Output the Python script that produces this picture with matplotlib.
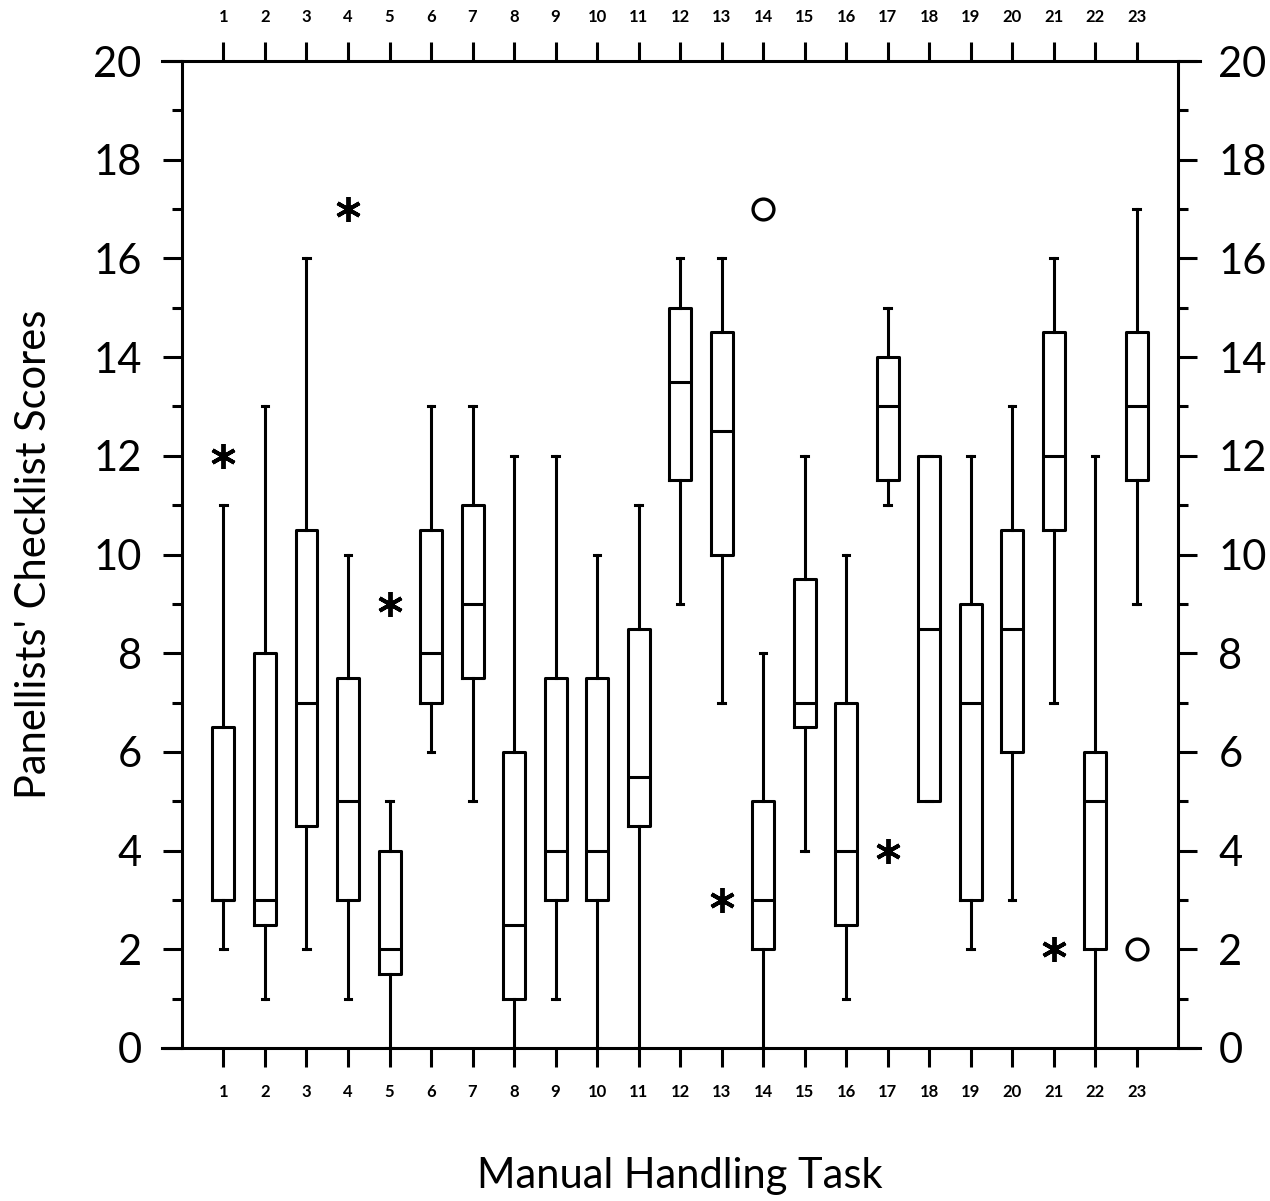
import matplotlib.pyplot as plt
from matplotlib.ticker import MultipleLocator

# data
tasks = list(range(1, 24))
q1 = [3, 2.5, 4.5, 3, 1.5, 7, 7.5, 1, 3, 3, 4.5, 11.5, 10, 2, 6.5, 2.5, 11.5, 5, 3, 6, 10.5, 2, 11.5]
med = [3, 3, 7, 5, 2, 8, 9, 2.5, 4, 4, 5.5, 13.5, 12.5, 3, 7, 4, 13, 8.5, 7, 8.5, 12, 5, 13]
q3 = [6.5, 8, 10.5, 7.5, 4, 10.5, 11, 6, 7.5, 7.5, 8.5, 15, 14.5, 5, 9.5, 7, 14, 12, 9, 10.5, 14.5, 6, 14.5]
wlo = [2, 1, 2, 1, 0, 6, 5, 0, 1, 0, 0, 9, 7, 0, 4, 1, 11, 5, 2, 3, 7, 0, 9]
whi = [11, 13, 16, 10, 5, 13, 13, 12, 12, 10, 11, 16, 16, 8, 12, 10, 15, 12, 12, 13, 16, 12, 17]

# outliers: stars (extreme) and circles
star_task = [1, 4, 5, 13, 17, 21]
star_score = [12, 17, 9, 3, 4, 2]
circle_task = [14, 23]
circle_score = [17, 2]

plt.rcParams['font.family'] = ['Lato', 'DejaVu Sans']

fig = plt.figure(figsize=(12.7, 12.01), dpi=100)
ax = fig.add_axes([0.1433, 0.1274, 0.7843, 0.8218])

stats = []
for i in range(len(tasks)):
    stats.append({'med': med[i], 'q1': q1[i], 'q3': q3[i],
                  'whislo': wlo[i], 'whishi': whi[i], 'fliers': []})

lp = dict(color='black', linewidth=2.2)
ax.bxp(stats, positions=tasks, widths=0.53, capwidths=0.15, showfliers=False,
       boxprops=lp, whiskerprops=lp, capprops=lp, medianprops=lp)

ax.plot(star_task, star_score, linestyle='none', marker=(6, 2, 0),
        markersize=18, markeredgewidth=2.8, color='black')
ax.plot(circle_task, circle_score, linestyle='none', marker='o',
        markersize=15, markerfacecolor='none', markeredgewidth=2.4, color='black')

ax.set_xlim(0, 24)
ax.set_ylim(0, 20)
ax.set_xticks(tasks)
ax.set_xticklabels([str(t) for t in tasks], fontweight='bold')
ax.yaxis.set_major_locator(MultipleLocator(2))
ax.yaxis.set_minor_locator(MultipleLocator(1))

for s in ax.spines.values():
    s.set_linewidth(2.2)
ax.spines['top'].set_visible(False)
ax.spines['bottom'].set_visible(False)
# horizontal frame lines run out to the tip of the y ticks
for yy in (0, 1):
    ax.plot([-0.0201, 1.0221], [yy, yy], transform=ax.transAxes,
            color='black', linewidth=2.2, clip_on=False)

ax.tick_params(axis='y', which='major', direction='out', length=14, width=2.2,
               left=True, right=True, labelleft=True, labelright=True,
               labelsize=30, pad=15)
ax.tick_params(axis='y', which='minor', direction='out', length=7, width=2.2,
               left=True, right=True)
ax.tick_params(axis='x', which='major', direction='out', length=14, width=2.2,
               top=True, bottom=True, labeltop=True, labelbottom=True,
               labelsize=12, pad=12)
for t in ax.xaxis.get_major_ticks():
    t.label2.set_fontweight('bold')

ax.set_ylabel("Panellists' Checklist Scores", fontsize=30)
ax.yaxis.set_label_coords(-0.13, 0.5)
ax.set_xlabel('Manual Handling Task', fontsize=30)
ax.xaxis.set_label_coords(0.5, -0.11)

fig.savefig('out.png', dpi=100)
